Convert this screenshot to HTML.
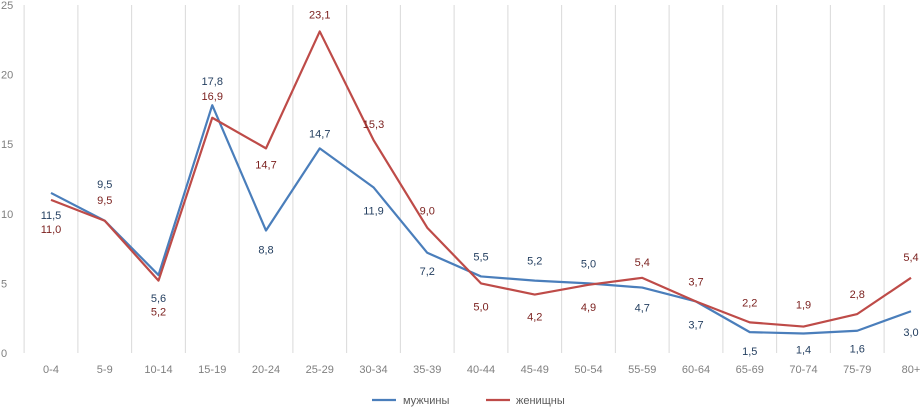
<!DOCTYPE html>
<html><head><meta charset="utf-8"><style>
body{margin:0;background:#fff;}
svg{display:block;font-family:"Liberation Sans","Noto Sans CJK SC",sans-serif;}
</style></head><body>
<svg id="chart" width="921" height="407" viewBox="0 0 921 407"></svg>
<script>
const categories=["0-4","5-9","10-14","15-19","20-24","25-29","30-34","35-39","40-44","45-49","50-54","55-59","60-64","65-69","70-74","75-79","80+"];
const menValues=[11.5,9.5,5.6,17.8,8.8,14.7,11.9,7.2,5.5,5.2,5.0,4.7,3.7,1.5,1.4,1.6,3.0];
const womenValues=[11.0,9.5,5.2,16.9,14.7,23.1,15.3,9.0,5.0,4.2,4.9,5.4,3.7,2.2,1.9,2.8,5.4];
const yTicks=[0,5,10,15,20,25];
const menLabelDy=[22,-37,23,-24,19,-15,23,18,-20,-20,-20,20,23,19,16,18,21];
const womenLabelDy=[29,-21,31,-22,16,-17,-16,-17,23,22,22,-16,-20,-20,-22,-20,-21];

const NS="http://www.w3.org/2000/svg";
const svg=document.getElementById('chart');
const x0=51,step=(911-51)/16,yBase=353,yTop=5;
const xPos=i=>x0+i*step;
const yPos=v=>yBase-(v/25)*(yBase-yTop);
function mk(t,a){const e=document.createElementNS(NS,t);for(const k in a)e.setAttribute(k,a[k]);svg.appendChild(e);return e;}
const fmt=v=>v.toFixed(1).replace('.',',');

for(let i=0;i<=categories.length;i++){
  const gx=xPos(i)-step/2;
  const g=mk('line',{x1:gx,x2:gx,y1:yTop,y2:yBase,stroke:'#d9d9d9','stroke-width':1});
  
  
}

yTicks.forEach(t=>{
  const e=mk('text',{x:1,y:yPos(t)+4,'font-size':11,fill:'#7f7f7f'});
  e.textContent=t;
  
  
});
categories.forEach((c,i)=>{
  const e=mk('text',{x:xPos(i),y:373,'font-size':11,fill:'#7f7f7f','text-anchor':'middle'});
  e.textContent=c;
  
  
});

function series(vals,color,labelColor,dys,name){
  const pts=vals.map((v,i)=>xPos(i)+','+yPos(v)).join(' ');
  const p=mk('polyline',{points:pts,fill:'none',stroke:color,'stroke-width':2.2,'stroke-linejoin':'round'});
  
  
  vals.forEach((v,i)=>{
    const t=mk('text',{x:xPos(i),y:yPos(v)+dys[i]+4,'font-size':11,fill:labelColor,'text-anchor':'middle'});
    t.textContent=fmt(v);
    
    
  });
}
series(menValues,'#4a7ebb','#243f60',menLabelDy,'men');
series(womenValues,'#be4b48','#7a1f1d',womenLabelDy,'women');

const l1=mk('line',{x1:372,x2:396,y1:400,y2:400,stroke:'#4a7ebb','stroke-width':2.2});


const t1=mk('text',{x:403,y:404,'font-size':11,fill:'#595959'});t1.textContent='мужчины';


const l2=mk('line',{x1:486,x2:510,y1:400,y2:400,stroke:'#be4b48','stroke-width':2.2});


const t2=mk('text',{x:516,y:404,'font-size':11,fill:'#595959'});t2.textContent='женищны';


</script>
</body></html>
